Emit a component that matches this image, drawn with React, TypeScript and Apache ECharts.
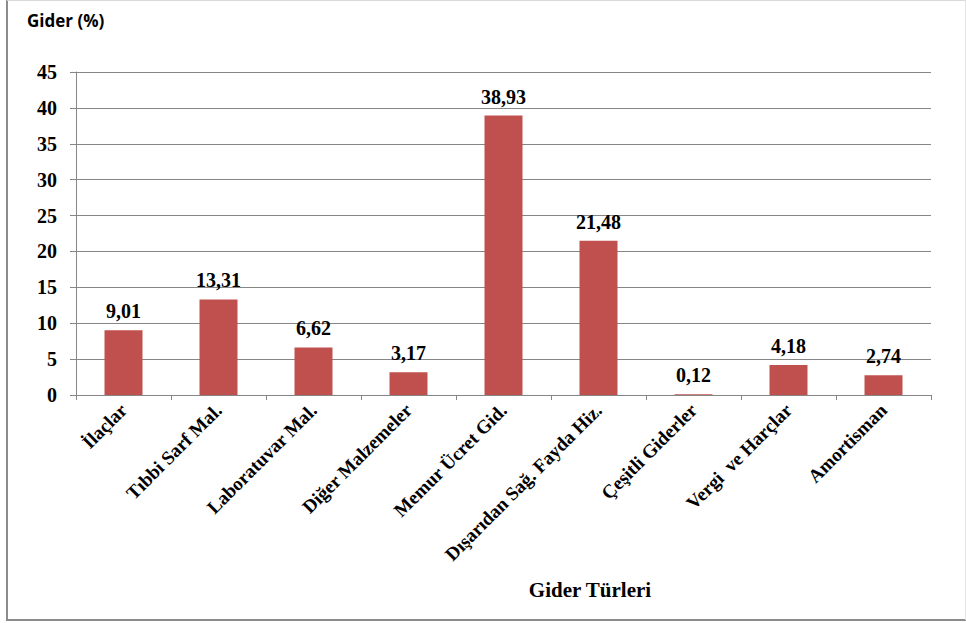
import React, { useEffect, useRef } from "react";
import * as echarts from "echarts";

const categories = [
  "İlaçlar",
  "Tıbbi Sarf Mal.",
  "Laboratuvar Mal.",
  "Diğer Malzemeler",
  "Memur Ücret Gid.",
  "Dışarıdan Sağ. Fayda Hiz.",
  "Çeşitli Giderler",
  "Vergi  ve Harçlar",
  "Amortisman",
];
const values = [9.01, 13.31, 6.62, 3.17, 38.93, 21.48, 0.12, 4.18, 2.74];
const yTicks = [0, 5, 10, 15, 20, 25, 30, 35, 40, 45];
const yAxisTitle = "Gider (%)";
const xAxisTitle = "Gider Türleri";

const serif = "'Liberation Serif', 'Times New Roman', serif";

export default function App() {
  const ref = useRef<HTMLDivElement>(null);
  useEffect(() => {
    if (!ref.current) return;
    const chart = echarts.init(ref.current, undefined, { renderer: "svg" });
    chart.setOption({
      animation: false,
      backgroundColor: "#ffffff",
      grid: { left: 76, right: 35, top: 72, bottom: 228, containLabel: false },
      graphic: [
        { type: "line", shape: { x1: 7, y1: 0, x2: 7, y2: 620 }, style: { stroke: "#8c8c8c", lineWidth: 2 } },
        { type: "line", shape: { x1: 6, y1: 620, x2: 966, y2: 620 }, style: { stroke: "#8c8c8c", lineWidth: 2 } },
        { type: "line", shape: { x1: 7, y1: 0.5, x2: 966, y2: 0.5 }, style: { stroke: "#d9d9d9", lineWidth: 1 } },
        { type: "line", shape: { x1: 965.5, y1: 0, x2: 965.5, y2: 620 }, style: { stroke: "#e6e6e6", lineWidth: 1 } },
        {
          type: "text",
          x: 27,
          y: 20,
          style: {
            text: yAxisTitle,
            fontFamily: "'Open Sans', 'Liberation Sans', sans-serif",
            fontWeight: "bold",
            fontSize: 17,
            fill: "#000",
            verticalAlign: "middle",
          },
        },
        {
          type: "text",
          x: 590,
          y: 590,
          style: {
            text: xAxisTitle,
            fontFamily: serif,
            fontWeight: "bold",
            fontSize: 21,
            fill: "#000",
            align: "center",
            verticalAlign: "middle",
          },
        },
      ],
      xAxis: {
        type: "category",
        data: categories,
        boundaryGap: true,
        axisLine: { show: true, lineStyle: { color: "#868686", width: 1 } },
        axisTick: { show: true, alignWithLabel: false, length: 5, lineStyle: { color: "#868686" } },
        axisLabel: {
          rotate: 45,
          interval: 0,
          margin: 12,
          fontFamily: serif,
          fontWeight: "bold",
          fontSize: 19,
          color: "#000",
        },
      },
      yAxis: {
        type: "value",
        min: 0,
        max: 45,
        interval: 5,
        axisLine: { show: true, lineStyle: { color: "#868686", width: 1 } },
        axisTick: { show: true, length: 6, lineStyle: { color: "#868686" } },
        splitLine: { show: true, lineStyle: { color: "#868686", width: 1 } },
        axisLabel: {
          margin: 19,
          fontFamily: serif,
          fontWeight: "bold",
          fontSize: 20,
          color: "#000",
          formatter: (v: number) => (yTicks.includes(v) ? String(v) : ""),
        },
      },
      series: [
        {
          type: "bar",
          data: values,
          barWidth: 38,
          itemStyle: { color: "#C0504D" },
          label: {
            show: true,
            position: "top",
            distance: 9,
            fontFamily: serif,
            fontWeight: "bold",
            fontSize: 20,
            color: "#000",
            formatter: (p: any) => Number(p.value).toFixed(2).replace(".", ","),
          },
        },
      ],
    });
    return () => chart.dispose();
  }, []);
  return (
    <div
      ref={ref}
      style={{ position: "fixed", left: 0, top: 0, width: 966, height: 623 }}
    />
  );
}
